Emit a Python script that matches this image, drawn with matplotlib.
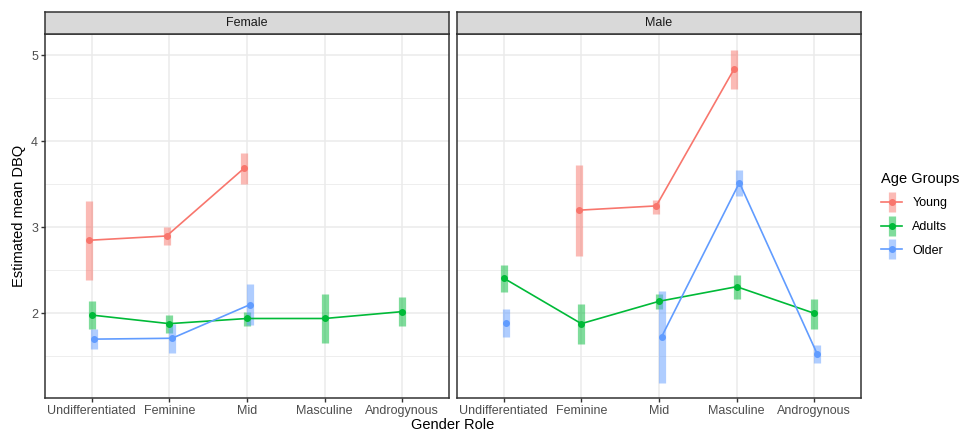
import numpy as np
import matplotlib.pyplot as plt
from matplotlib.lines import Line2D
from matplotlib.patches import Rectangle
from matplotlib.legend_handler import HandlerTuple

# categories and groups
roles = ["Undifferentiated", "Feminine", "Mid", "Masculine", "Androgynous"]
groups = ["Young", "Adults", "Older"]
colors = {"Young": "#F8766D", "Adults": "#00BA38", "Older": "#619CFF"}
nan = np.nan

# estimated means, per panel and group (NaN = no estimate)
female_mean = {
    "Young":  [2.85, 2.90, 3.69, nan, nan],
    "Adults": [1.98, 1.88, 1.94, 1.94, 2.02],
    "Older":  [1.70, 1.71, 2.10, nan, nan],
}
female_lo = {
    "Young":  [2.39, 2.79, 3.51, nan, nan],
    "Adults": [1.82, 1.77, 1.85, 1.65, 1.85],
    "Older":  [1.59, 1.54, 1.86, nan, nan],
}
female_hi = {
    "Young":  [3.31, 3.00, 3.87, nan, nan],
    "Adults": [2.14, 1.98, 2.02, 2.23, 2.19],
    "Older":  [1.82, 1.88, 2.34, nan, nan],
}
male_mean = {
    "Young":  [nan, 3.20, 3.25, 4.84, nan],
    "Adults": [2.41, 1.88, 2.14, 2.31, 2.00],
    "Older":  [1.89, nan, 1.73, 3.52, 1.53],
}
male_lo = {
    "Young":  [nan, 2.67, 3.16, 4.61, nan],
    "Adults": [2.25, 1.64, 2.05, 2.17, 1.82],
    "Older":  [1.73, nan, 1.19, 3.36, 1.42],
}
male_hi = {
    "Young":  [nan, 3.73, 3.32, 5.06, nan],
    "Adults": [2.56, 2.11, 2.23, 2.45, 2.17],
    "Older":  [2.05, nan, 2.26, 3.67, 1.63],
}

dodge = {"Young": -0.035, "Adults": 0.0, "Older": 0.035}

plt.rcParams["font.family"] = ["Liberation Sans", "DejaVu Sans"]

fig = plt.figure(figsize=(9.64, 4.33), dpi=100)
W, H = 964, 433


def px_axes(x0, y0, x1, y1):
    return fig.add_axes([x0 / W, 1 - y1 / H, (x1 - x0) / W, (y1 - y0) / H])


panels = [
    ("Female", 45, female_mean, female_lo, female_hi),
    ("Male", 457, male_mean, male_lo, male_hi),
]

for title, left, means, los, his in panels:
    ax = px_axes(left, 34, left + 404, 398)
    x = np.arange(len(roles))
    for g in groups:
        xs = x + dodge[g]
        m = np.array(means[g])
        lo = np.array(los[g])
        hi = np.array(his[g])
        ax.vlines(xs, lo, hi, color=colors[g], lw=5.2, alpha=0.5, zorder=2)
        ax.plot(xs, m, color=colors[g], lw=1.2, zorder=3)
        ax.plot(xs, m, "o", color=colors[g], ms=4, zorder=4)

    ax.set_xlim(-0.6, 4.6)
    ax.set_ylim(1.015, 5.25)
    ax.set_xticks(x)
    ax.set_xticklabels(roles, fontsize=9, color="#4D4D4D")
    ax.set_yticks([2, 3, 4, 5])
    ax.set_yticks([1.5, 2.5, 3.5, 4.5], minor=True)
    ax.grid(True, which="major", color="#EBEBEB", lw=1.1, zorder=0)
    ax.grid(True, which="minor", axis="y", color="#EBEBEB", lw=0.6, zorder=0)
    ax.tick_params(axis="y", which="minor", length=0)
    ax.tick_params(axis="both", which="major", length=3, width=1,
                   color="#333333", labelsize=9, labelcolor="#4D4D4D", pad=2)
    ax.set_axisbelow(True)
    for s in ax.spines.values():
        s.set_color("#333333")
        s.set_linewidth(1.1)
    if left != 45:
        ax.set_yticklabels([])
        ax.tick_params(axis="y", length=0)

    # facet strip
    sax = px_axes(left, 12, left + 404, 34)
    sax.add_patch(Rectangle((0, 0), 1, 1, transform=sax.transAxes,
                            facecolor="#D9D9D9", edgecolor="none"))
    sax.set_xticks([])
    sax.set_yticks([])
    for s in sax.spines.values():
        s.set_color("#333333")
        s.set_linewidth(1.1)
    sax.text(0.5, 0.5, title, ha="center", va="center", fontsize=9,
             color="#1A1A1A", transform=sax.transAxes)

fig.text(453 / W, 1 - 425 / H, "Gender Role", ha="center", va="center",
         fontsize=10.5)
fig.text(19 / W, 1 - 216 / H, "Estimated mean DBQ", ha="center", va="center",
         rotation=90, fontsize=10.5)

# legend: translucent bar + line with point, overlaid in each key
bars = [Line2D([0], [0], color=colors[g], marker="|", ms=14, mew=5.2, alpha=0.5,
               linestyle="none") for g in groups]
lines = [Line2D([0], [0], color=colors[g], lw=1.2, marker="o", ms=4) for g in groups]
leg = fig.legend(list(zip(bars, lines)), groups, title="Age Groups",
                 handler_map={tuple: HandlerTuple(ndivide=1, pad=0)},
                 loc="upper left", bbox_to_anchor=(881 / W, 1 - 172 / H),
                 frameon=False, fontsize=9, title_fontsize=10.5, borderpad=0,
                 borderaxespad=0, handlelength=1.7, handletextpad=0.8,
                 labelspacing=0.95, alignment="left")
leg._legend_box.sep = 8

fig.savefig("out.png", dpi=100)
